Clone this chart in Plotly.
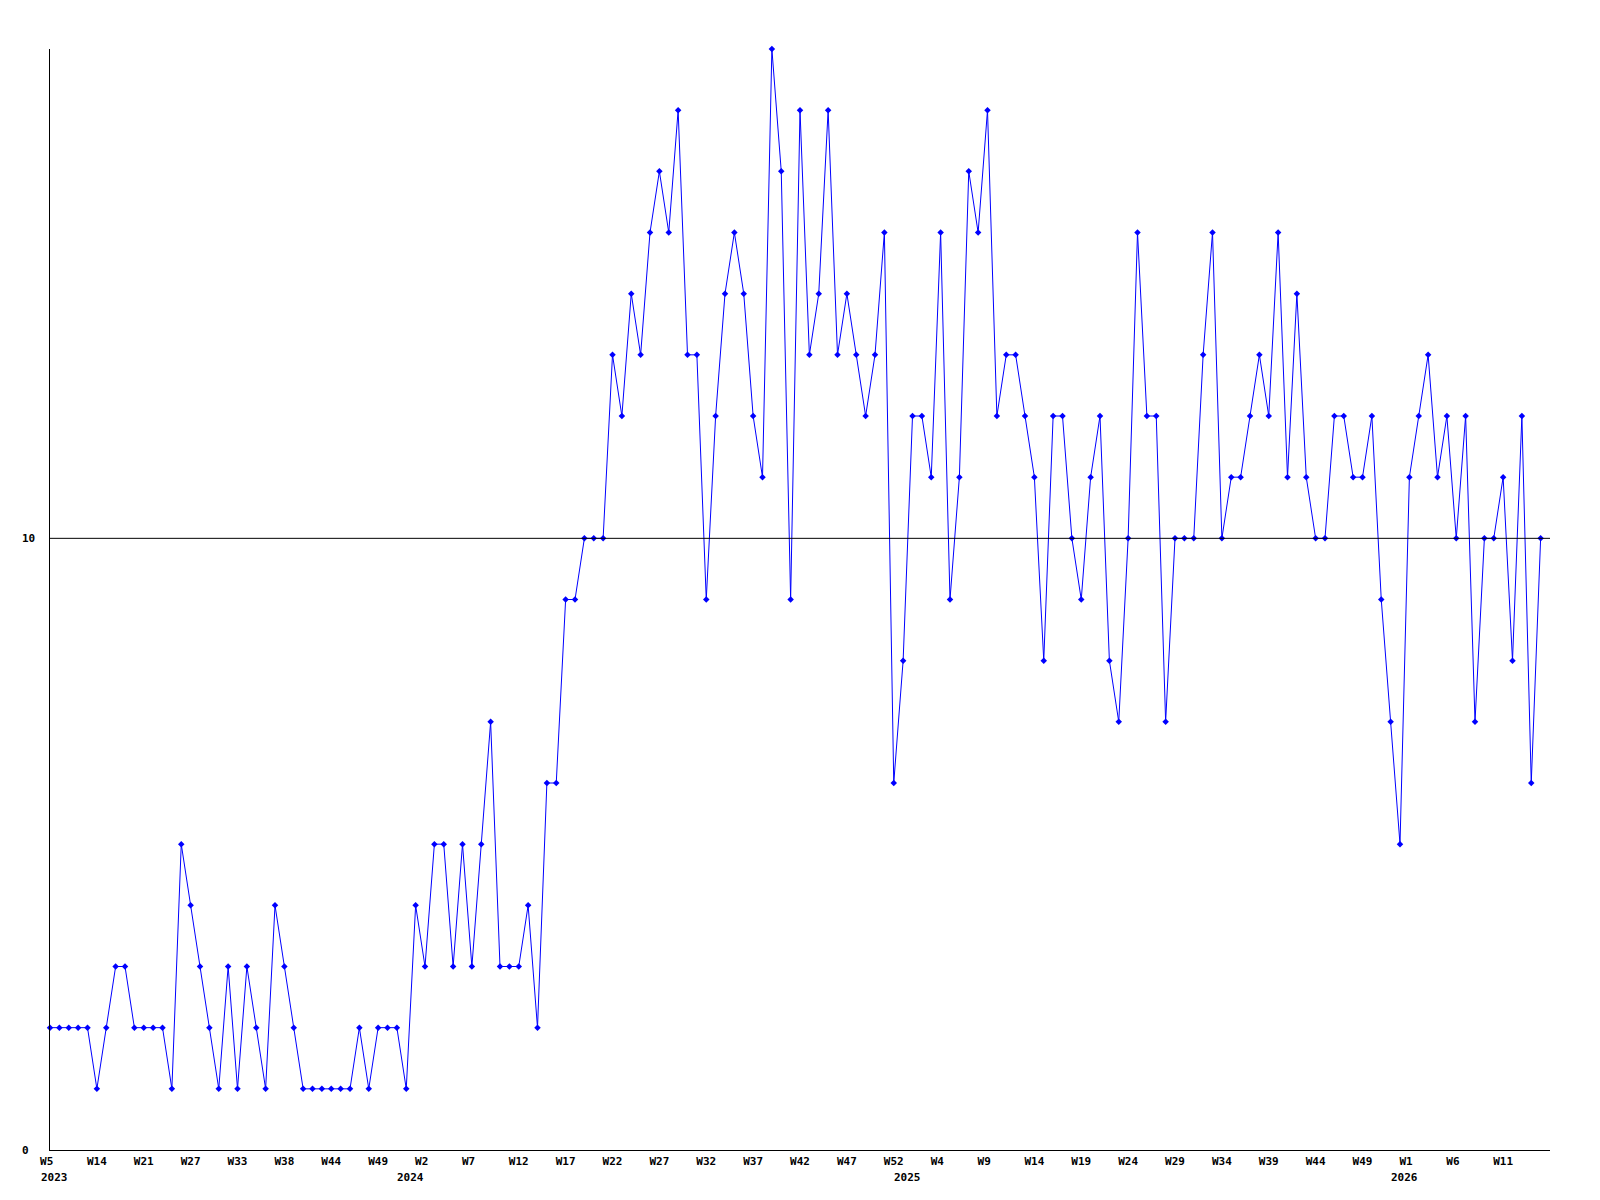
import plotly.graph_objects as go

# weekly values, one per point (160 points)
values = [
    2, 2, 2, 2, 2, 1, 2, 3, 3, 2,
    2, 2, 2, 1, 5, 4, 3, 2, 1, 3,
    1, 3, 2, 1, 4, 3, 2, 1, 1, 1,
    1, 1, 1, 2, 1, 2, 2, 2, 1, 4,
    3, 5, 5, 3, 5, 3, 5, 7, 3, 3,
    3, 4, 2, 6, 6, 9, 9, 10, 10, 10,
    13, 12, 14, 13, 15, 16, 15, 17, 13, 13,
    9, 12, 14, 15, 14, 12, 11, 18, 16, 9,
    17, 13, 14, 17, 13, 14, 13, 12, 13, 15,
    6, 8, 12, 12, 11, 15, 9, 11, 16, 15,
    17, 12, 13, 13, 12, 11, 8, 12, 12, 10,
    9, 11, 12, 8, 7, 10, 15, 12, 12, 7,
    10, 10, 10, 13, 15, 10, 11, 11, 12, 13,
    12, 15, 11, 14, 11, 10, 10, 12, 12, 11,
    11, 12, 9, 7, 5, 11, 12, 13, 11, 12,
    10, 12, 7, 10, 10, 11, 8, 12, 6, 10,
]

week_labels = ["W5", "W14", "W21", "W27", "W33", "W38", "W44", "W49",
               "W2", "W7", "W12", "W17", "W22", "W27", "W32", "W37",
               "W42", "W47", "W52", "W4", "W9", "W14", "W19", "W24",
               "W29", "W34", "W39", "W44", "W49", "W1", "W6", "W11"]
week_ticks = list(range(0, 160, 5))

years = ["2023", "2024", "2025", "2026"]
year_pos = [0, 38, 91, 144]

y_labels = ["0", "10"]
y_ticks = [0, 10]

x = list(range(len(values)))
font = dict(family="DejaVu Sans Mono", size=11, color="black", weight="bold")

fig = go.Figure()
fig.add_trace(go.Scatter(x=x, y=values, mode="lines+markers",
                         line=dict(color="#0000ff", width=1),
                         marker=dict(symbol="diamond", size=5, color="#0000ff"),
                         cliponaxis=False, showlegend=False))

# reference line at 10
fig.add_shape(type="line", xref="paper", yref="y", x0=0, x1=1, y0=10, y1=10,
              line=dict(color="black", width=1))

# pad short labels so monospaced text lines up on the left
ticktext = [t.ljust(3, "\u00a0") for t in week_labels]

for yr, pos in zip(years, year_pos):
    fig.add_annotation(x=pos, y=0, xref="x", yref="y", text=yr, showarrow=False,
                       xanchor="left", yanchor="middle", xshift=-11, yshift=-27,
                       font=font)

for lab, v in zip(y_labels, y_ticks):
    fig.add_annotation(x=0, y=v, xref="paper", yref="y", text=lab, showarrow=False,
                       xanchor="left", yanchor="middle", xshift=-30, font=font)

# page body has an 8px margin, so the figure is a bit smaller than the window
fig.update_layout(width=1584, height=1184,
                  margin=dict(l=42, r=42, t=41, b=42),
                  plot_bgcolor="white", paper_bgcolor="white",
                  font=font)
fig.update_xaxes(range=[0, 160], tickvals=week_ticks, ticktext=ticktext,
                 showgrid=False, zeroline=False, showline=True,
                 linecolor="black", linewidth=1, ticks="", tickfont=font,
                 ticklabelstandoff=1, tickangle=0)
fig.update_yaxes(range=[0, 18], showticklabels=False, showgrid=False,
                 zeroline=False, showline=True, linecolor="black", linewidth=1,
                 ticks="")

fig.write_html("out.html")
